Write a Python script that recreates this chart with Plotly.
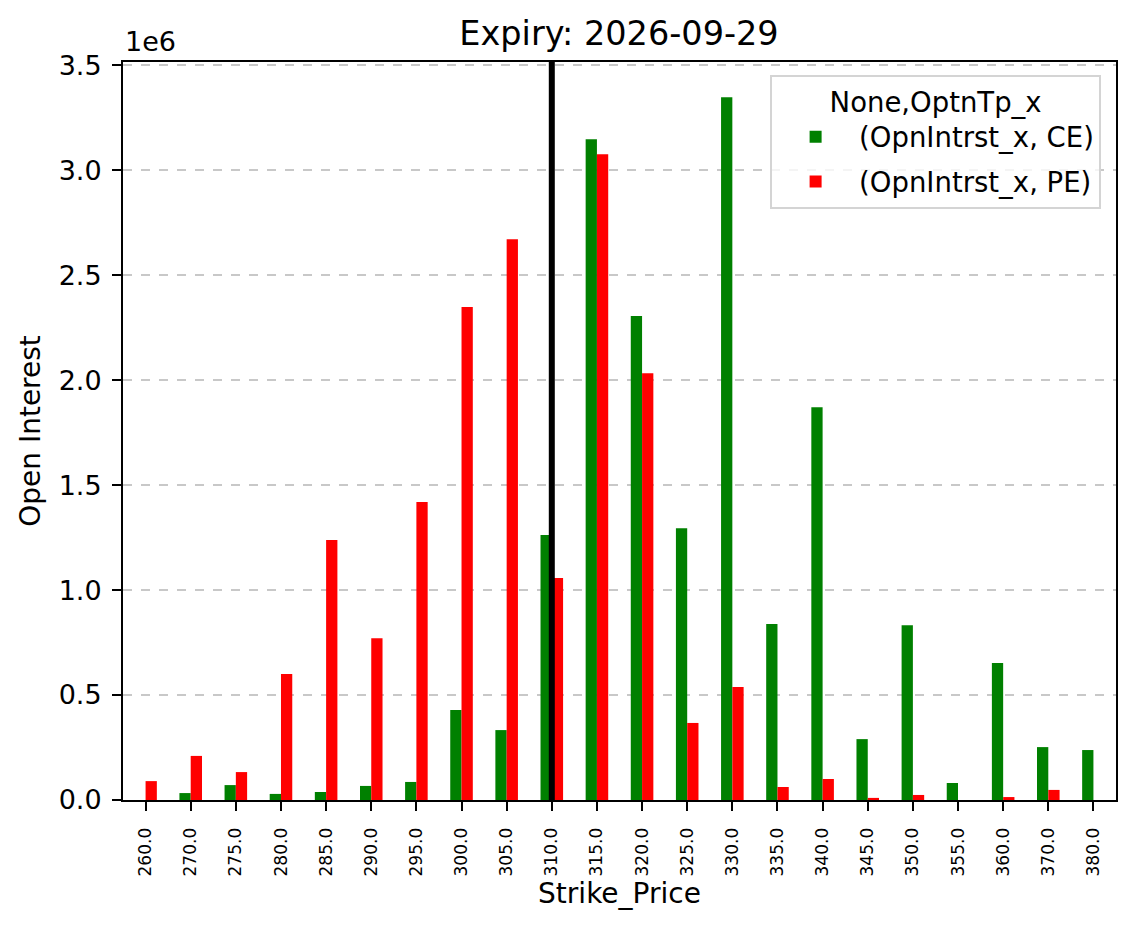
import plotly.graph_objects as go

# strike prices (as they appear on the x axis) and open interest per option type
strikes = ["260.0", "270.0", "275.0", "280.0", "285.0", "290.0", "295.0", "300.0",
           "305.0", "310.0", "315.0", "320.0", "325.0", "330.0", "335.0", "340.0",
           "345.0", "350.0", "355.0", "360.0", "370.0", "380.0"]
oi_ce = [0, 33000, 71000, 29000, 38000, 67000, 86000, 429000,
         333000, 1262000, 3148000, 2305000, 1295000, 3348000, 838000, 1871000,
         290000, 833000, 81000, 652000, 252000, 238000]
oi_pe = [90000, 210000, 133000, 600000, 1238000, 771000, 1419000, 2348000,
         2671000, 1057000, 3076000, 2033000, 367000, 538000, 62000, 100000,
         10000, 24000, 0, 14000, 48000, 0]
spot_strike = "310.0"
y_ticks = [0, 500000, 1000000, 1500000, 2000000, 2500000, 3000000, 3500000]
y_tick_text = ["0.0", "0.5", "1.0", "1.5", "2.0", "2.5", "3.0", "3.5"]

font = "DejaVu Sans"
# the page body has an 8px margin, so the figure is made 8px smaller
W, H = 1126, 920

fig = go.Figure()
fig.add_trace(go.Bar(x=strikes, y=oi_ce, name="(OpnIntrst_x, CE)", legendgroup="ce",
                     marker=dict(color="#008000", line=dict(width=0))))
fig.add_trace(go.Bar(x=strikes, y=oi_pe, name="(OpnIntrst_x, PE)", legendgroup="pe",
                     marker=dict(color="#ff0000", line=dict(width=0))))

# vertical line at the current strike
fig.add_shape(type="line", xref="x", yref="paper",
              x0=strikes.index(spot_strike), x1=strikes.index(spot_strike),
              y0=0, y1=1, line=dict(color="black", width=6), layer="above")

ymax = max(max(oi_ce), max(oi_pe)) * 1.05

fig.update_layout(
    width=W, height=H,
    margin=dict(l=115, r=18, t=54, b=128),
    paper_bgcolor="white", plot_bgcolor="white",
    font=dict(family=font, size=27, color="black"),
    barmode="group", bargap=0.5, bargroupgap=0,
    title=dict(text="Expiry: 2026-09-29", x=611 / W, xanchor="center",
               y=1 - 25 / H, yanchor="middle", yref="container",
               font=dict(size=33.5, family=font)),
    legend=dict(
        title=dict(text="None,OptnTp_x", side="top center", font=dict(size=27.5)),
        x=0.985, xanchor="right", y=0.983, yanchor="top",
        bgcolor="rgba(255,255,255,0.8)", bordercolor="#d4d4d4", borderwidth=2,
        font=dict(size=27.5), tracegroupgap=6, itemwidth=77,
    ),
    showlegend=True,
)

fig.update_xaxes(
    type="category", range=[-0.5, len(strikes) - 0.5], automargin=False,
    showline=True, linecolor="black", linewidth=2, mirror=True,
    ticks="outside", ticklen=9, tickwidth=2, tickcolor="black",
    tickangle=-90, tickfont=dict(size=17), ticklabelstandoff=10,
    showgrid=False,
    title=dict(text="Strike_Price", standoff=8, font=dict(size=28)),
)
fig.update_yaxes(
    range=[0, ymax], automargin=False,
    tickvals=y_ticks, ticktext=y_tick_text, ticklabelstandoff=5,
    tickfont=dict(size=27),
    showline=True, linecolor="black", linewidth=2, mirror=True,
    ticks="outside", ticklen=9, tickwidth=2, tickcolor="black",
    showgrid=True, gridcolor="#c8c8c8", gridwidth=1.5, griddash="dash",
    zeroline=False,
    title=dict(text="Open Interest", standoff=10, font=dict(size=28)),
)

fig.add_annotation(text="1e6", xref="paper", yref="paper", x=0, y=1,
                   xanchor="left", yanchor="bottom", yshift=3,
                   showarrow=False, font=dict(size=27))

fig.write_html("out.html")
